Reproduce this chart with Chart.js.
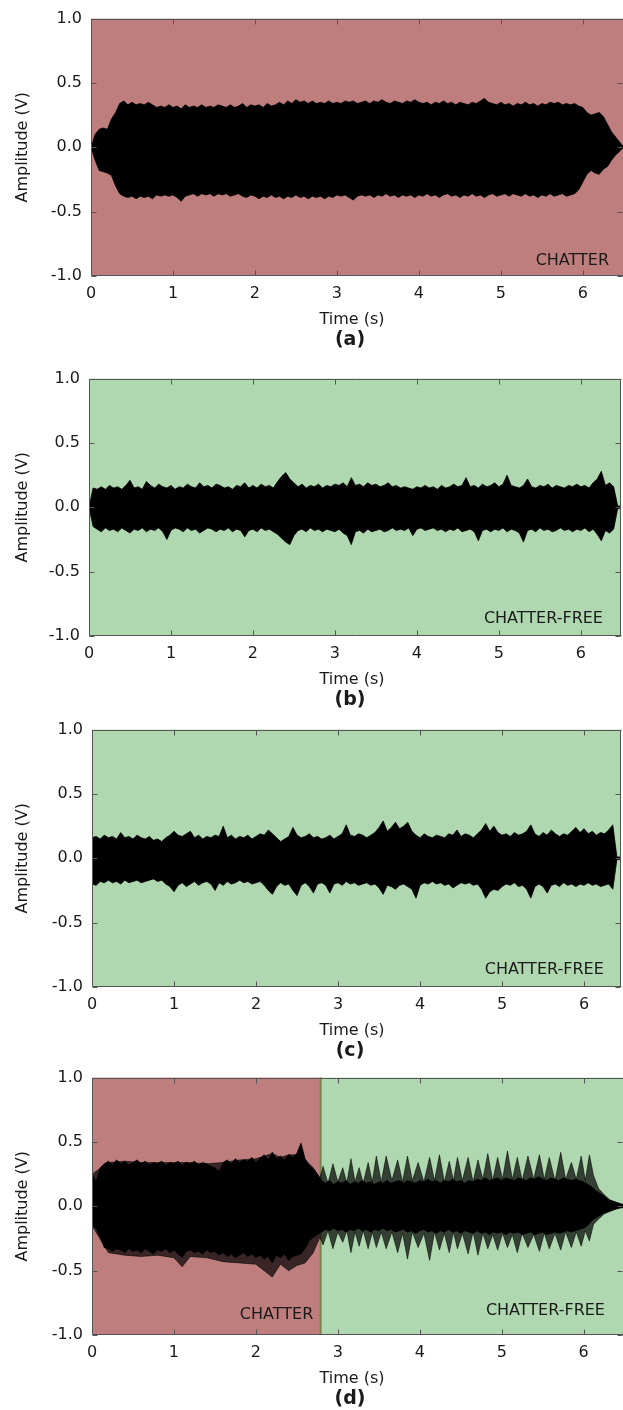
<!DOCTYPE html>
<html>
<head>
<meta charset="utf-8">
<script src="https://cdn.jsdelivr.net/npm/chart.js@4.4.1/dist/chart.umd.min.js"></script>
<style>
  body { margin: 0; background: #fff; overflow: hidden; }
  .panel { position: absolute; left: 0; width: 623px; height: 350px; }
</style>
</head>
<body>
<div class="panel" style="top:0px"><canvas id="chartA" width="623" height="350"></canvas></div>
<div class="panel" style="top:360px"><canvas id="chartB" width="623" height="350"></canvas></div>
<div class="panel" style="top:711px"><canvas id="chartC" width="623" height="350"></canvas></div>
<div class="panel" style="top:1059px"><canvas id="chartD" width="623" height="350"></canvas></div>
<script>
// Global Options
Chart.defaults.font.family = "'DejaVu Sans'";
Chart.defaults.font.size = 16;
Chart.defaults.color = '#1a1a1a';

const xTicks = [0, 1, 2, 3, 4, 5, 6];
const yTicks = [-1.0, -0.5, 0.0, 0.5, 1.0];

// sample times of the envelopes (s)
const time = [
  0.00, 0.05, 0.10, 0.15, 0.20, 0.25, 0.30, 0.35, 0.40, 0.45,
  0.50, 0.55, 0.60, 0.65, 0.70, 0.75, 0.80, 0.85, 0.90, 0.95,
  1.00, 1.05, 1.10, 1.15, 1.20, 1.25, 1.30, 1.35, 1.40, 1.45,
  1.50, 1.55, 1.60, 1.65, 1.70, 1.75, 1.80, 1.85, 1.90, 1.95,
  2.00, 2.05, 2.10, 2.15, 2.20, 2.25, 2.30, 2.35, 2.40, 2.45,
  2.50, 2.55, 2.60, 2.65, 2.70, 2.75, 2.80, 2.85, 2.90, 2.95,
  3.00, 3.05, 3.10, 3.15, 3.20, 3.25, 3.30, 3.35, 3.40, 3.45,
  3.50, 3.55, 3.60, 3.65, 3.70, 3.75, 3.80, 3.85, 3.90, 3.95,
  4.00, 4.05, 4.10, 4.15, 4.20, 4.25, 4.30, 4.35, 4.40, 4.45,
  4.50, 4.55, 4.60, 4.65, 4.70, 4.75, 4.80, 4.85, 4.90, 4.95,
  5.00, 5.05, 5.10, 5.15, 5.20, 5.25, 5.30, 5.35, 5.40, 5.45,
  5.50, 5.55, 5.60, 5.65, 5.70, 5.75, 5.80, 5.85, 5.90, 5.95,
  6.00, 6.05, 6.10, 6.15, 6.20, 6.25, 6.30, 6.35, 6.40, 6.45,
  6.50
];

// (a) chatter
const upperA = [
  0.00, 0.10, 0.14, 0.15, 0.14, 0.22, 0.27, 0.34, 0.36, 0.33,
  0.35, 0.33, 0.34, 0.33, 0.35, 0.33, 0.31, 0.32, 0.31, 0.33,
  0.31, 0.32, 0.30, 0.33, 0.31, 0.32, 0.31, 0.33, 0.31, 0.32,
  0.31, 0.33, 0.32, 0.31, 0.33, 0.31, 0.32, 0.34, 0.31, 0.33,
  0.32, 0.33, 0.31, 0.34, 0.32, 0.33, 0.35, 0.33, 0.36, 0.34,
  0.37, 0.35, 0.36, 0.34, 0.36, 0.34, 0.35, 0.34, 0.36, 0.34,
  0.35, 0.34, 0.36, 0.35, 0.36, 0.34, 0.35, 0.36, 0.34, 0.36,
  0.35, 0.37, 0.35, 0.34, 0.36, 0.35, 0.34, 0.36, 0.35, 0.37,
  0.35, 0.34, 0.35, 0.33, 0.35, 0.34, 0.36, 0.34, 0.35, 0.33,
  0.35, 0.34, 0.33, 0.35, 0.34, 0.36, 0.38, 0.35, 0.34, 0.33,
  0.35, 0.33, 0.34, 0.32, 0.34, 0.33, 0.35, 0.33, 0.34, 0.32,
  0.34, 0.33, 0.35, 0.34, 0.35, 0.33, 0.34, 0.33, 0.34, 0.32,
  0.31, 0.27, 0.25, 0.26, 0.27, 0.24, 0.18, 0.12, 0.08, 0.04,
  0.00
];
const lowerA = [
  0.00, -0.10, -0.18, -0.19, -0.20, -0.22, -0.30, -0.36, -0.38, -0.39,
  -0.38, -0.40, -0.38, -0.39, -0.38, -0.40, -0.37, -0.38, -0.37, -0.38,
  -0.37, -0.39, -0.42, -0.38, -0.37, -0.36, -0.38, -0.36, -0.37, -0.36,
  -0.38, -0.36, -0.37, -0.36, -0.38, -0.37, -0.36, -0.38, -0.39, -0.37,
  -0.38, -0.40, -0.38, -0.39, -0.37, -0.39, -0.38, -0.40, -0.38, -0.39,
  -0.37, -0.39, -0.38, -0.40, -0.38, -0.39, -0.38, -0.40, -0.38, -0.39,
  -0.37, -0.38, -0.37, -0.39, -0.41, -0.38, -0.37, -0.38, -0.37, -0.39,
  -0.37, -0.38, -0.36, -0.38, -0.37, -0.39, -0.37, -0.38, -0.37, -0.39,
  -0.37, -0.38, -0.36, -0.38, -0.37, -0.39, -0.37, -0.36, -0.38, -0.37,
  -0.39, -0.37, -0.38, -0.36, -0.38, -0.37, -0.39, -0.37, -0.36, -0.38,
  -0.37, -0.36, -0.38, -0.36, -0.37, -0.38, -0.36, -0.38, -0.37, -0.39,
  -0.37, -0.38, -0.36, -0.38, -0.37, -0.36, -0.38, -0.37, -0.36, -0.33,
  -0.27, -0.21, -0.18, -0.20, -0.21, -0.17, -0.15, -0.10, -0.06, -0.03,
  0.00
];

// (b) chatter-free
const upperB = [
  0.00, 0.15, 0.14, 0.16, 0.14, 0.17, 0.15, 0.16, 0.14, 0.17,
  0.21, 0.15, 0.16, 0.14, 0.20, 0.17, 0.15, 0.18, 0.16, 0.15,
  0.17, 0.14, 0.16, 0.15, 0.18, 0.16, 0.15, 0.19, 0.16, 0.17,
  0.15, 0.18, 0.17, 0.15, 0.16, 0.14, 0.17, 0.16, 0.19, 0.15,
  0.17, 0.15, 0.18, 0.16, 0.17, 0.15, 0.20, 0.24, 0.27, 0.22,
  0.19, 0.16, 0.18, 0.15, 0.17, 0.16, 0.18, 0.15, 0.17, 0.16,
  0.18, 0.17, 0.19, 0.16, 0.23, 0.17, 0.18, 0.16, 0.19, 0.17,
  0.18, 0.16, 0.17, 0.19, 0.16, 0.17, 0.15, 0.16, 0.15, 0.14,
  0.16, 0.15, 0.17, 0.15, 0.16, 0.14, 0.17, 0.15, 0.16, 0.18,
  0.16, 0.17, 0.23, 0.16, 0.17, 0.15, 0.18, 0.16, 0.17, 0.19,
  0.16, 0.18, 0.25, 0.17, 0.16, 0.15, 0.17, 0.22, 0.16, 0.15,
  0.17, 0.16, 0.18, 0.15, 0.17, 0.16, 0.15, 0.17, 0.16, 0.18,
  0.16, 0.17, 0.15, 0.19, 0.22, 0.28, 0.17, 0.19, 0.16, 0.01,
  0.01
];
const lowerB = [
  0.00, -0.15, -0.17, -0.19, -0.16, -0.18, -0.17, -0.19, -0.16, -0.18,
  -0.20, -0.17, -0.18, -0.16, -0.19, -0.17, -0.18, -0.16, -0.19, -0.25,
  -0.18, -0.16, -0.17, -0.19, -0.16, -0.18, -0.17, -0.20, -0.18, -0.16,
  -0.17, -0.19, -0.17, -0.18, -0.16, -0.19, -0.17, -0.18, -0.23, -0.18,
  -0.17, -0.19, -0.16, -0.18, -0.17, -0.19, -0.21, -0.24, -0.27, -0.29,
  -0.22, -0.18, -0.17, -0.19, -0.16, -0.18, -0.17, -0.19, -0.17, -0.18,
  -0.19, -0.17, -0.20, -0.22, -0.29, -0.19, -0.18, -0.20, -0.17, -0.19,
  -0.18, -0.17, -0.19, -0.18, -0.16, -0.18, -0.17, -0.18, -0.16, -0.22,
  -0.17, -0.16, -0.18, -0.17, -0.16, -0.18, -0.17, -0.19, -0.17, -0.18,
  -0.16, -0.19, -0.18, -0.17, -0.19, -0.26, -0.18, -0.17, -0.19, -0.17,
  -0.18, -0.16, -0.19, -0.17, -0.18, -0.20, -0.27, -0.18, -0.17, -0.19,
  -0.16, -0.18, -0.17, -0.19, -0.18, -0.16, -0.18, -0.17, -0.19, -0.17,
  -0.18, -0.16, -0.19, -0.17, -0.21, -0.26, -0.18, -0.20, -0.17, -0.01,
  -0.01
];

// (c) chatter-free
const upperC = [
  0.16, 0.17, 0.15, 0.18, 0.16, 0.17, 0.15, 0.20, 0.16, 0.17,
  0.15, 0.18, 0.16, 0.15, 0.17, 0.14, 0.15, 0.13, 0.16, 0.18,
  0.21, 0.18, 0.17, 0.19, 0.21, 0.16, 0.18, 0.15, 0.17, 0.16,
  0.18, 0.17, 0.25, 0.16, 0.18, 0.15, 0.17, 0.16, 0.18, 0.15,
  0.17, 0.19, 0.18, 0.22, 0.19, 0.16, 0.13, 0.15, 0.17, 0.24,
  0.18, 0.16, 0.17, 0.19, 0.16, 0.17, 0.15, 0.16, 0.18, 0.15,
  0.17, 0.19, 0.26, 0.18, 0.17, 0.19, 0.18, 0.16, 0.18, 0.20,
  0.24, 0.29, 0.21, 0.24, 0.28, 0.23, 0.25, 0.28, 0.21, 0.18,
  0.16, 0.19, 0.17, 0.16, 0.18, 0.17, 0.16, 0.19, 0.18, 0.22,
  0.17, 0.19, 0.18, 0.16, 0.19, 0.22, 0.27, 0.21, 0.25, 0.20,
  0.18, 0.19, 0.17, 0.20, 0.18, 0.19, 0.21, 0.26, 0.19, 0.17,
  0.20, 0.18, 0.22, 0.19, 0.17, 0.19, 0.18, 0.21, 0.24, 0.20,
  0.23, 0.19, 0.21, 0.18, 0.20, 0.19, 0.22, 0.26, 0.01, 0.01,
  0.01
];
const lowerC = [
  -0.20, -0.21, -0.18, -0.19, -0.17, -0.19, -0.18, -0.20, -0.17, -0.19,
  -0.18, -0.17, -0.19, -0.18, -0.17, -0.16, -0.18, -0.17, -0.20, -0.22,
  -0.26, -0.21, -0.19, -0.22, -0.20, -0.18, -0.21, -0.19, -0.18, -0.20,
  -0.25, -0.19, -0.21, -0.18, -0.20, -0.19, -0.17, -0.19, -0.18, -0.20,
  -0.19, -0.18, -0.21, -0.25, -0.28, -0.22, -0.19, -0.21, -0.20, -0.25,
  -0.29, -0.21, -0.19, -0.22, -0.27, -0.20, -0.19, -0.21, -0.27, -0.20,
  -0.19, -0.21, -0.18, -0.20, -0.19, -0.21, -0.20, -0.19, -0.21, -0.20,
  -0.23, -0.28, -0.21, -0.22, -0.24, -0.21, -0.20, -0.22, -0.24, -0.31,
  -0.21, -0.19, -0.20, -0.18, -0.20, -0.19, -0.21, -0.20, -0.23, -0.21,
  -0.19, -0.20, -0.19, -0.21, -0.20, -0.24, -0.31, -0.26, -0.24, -0.25,
  -0.22, -0.20, -0.21, -0.19, -0.22, -0.21, -0.24, -0.31, -0.22, -0.20,
  -0.22, -0.27, -0.21, -0.20, -0.22, -0.19, -0.21, -0.20, -0.22, -0.20,
  -0.21, -0.19, -0.21, -0.20, -0.22, -0.21, -0.20, -0.24, -0.01, -0.01,
  -0.01
];

// (d) chatter then chatter-free: dense core
const upperD = [
  0.25, 0.19, 0.30, 0.33, 0.35, 0.32, 0.36, 0.33, 0.35, 0.32,
  0.34, 0.36, 0.33, 0.35, 0.32, 0.34, 0.33, 0.35, 0.32, 0.34,
  0.33, 0.35, 0.32, 0.34, 0.33, 0.35, 0.32, 0.34, 0.33, 0.31,
  0.30, 0.27, 0.34, 0.36, 0.33, 0.37, 0.34, 0.36, 0.35, 0.38,
  0.34, 0.37, 0.40, 0.36, 0.42, 0.37, 0.39, 0.36, 0.40, 0.38,
  0.41, 0.49, 0.37, 0.32, 0.29, 0.25, 0.20, 0.18, 0.20, 0.17,
  0.19, 0.18, 0.20, 0.17, 0.19, 0.18, 0.20, 0.18, 0.19, 0.17,
  0.19, 0.18, 0.20, 0.18, 0.19, 0.20, 0.18, 0.20, 0.19, 0.18,
  0.20, 0.19, 0.21, 0.19, 0.20, 0.18, 0.20, 0.19, 0.21, 0.19,
  0.20, 0.18, 0.20, 0.19, 0.21, 0.20, 0.22, 0.20, 0.21, 0.22,
  0.20, 0.22, 0.21, 0.20, 0.22, 0.21, 0.20, 0.22, 0.21, 0.23,
  0.21, 0.20, 0.22, 0.21, 0.20, 0.22, 0.21, 0.20, 0.21, 0.20,
  0.19, 0.17, 0.15, 0.12, 0.10, 0.08, 0.05, 0.04, 0.03, 0.02,
  0.01
];
const lowerD = [
  -0.15, -0.17, -0.24, -0.32, -0.33, -0.35, -0.33, -0.34, -0.36, -0.33,
  -0.35, -0.34, -0.36, -0.33, -0.35, -0.37, -0.34, -0.35, -0.33, -0.36,
  -0.34, -0.37, -0.40, -0.35, -0.34, -0.36, -0.35, -0.37, -0.34, -0.36,
  -0.35, -0.38, -0.36, -0.39, -0.37, -0.40, -0.38, -0.36, -0.39, -0.37,
  -0.40, -0.38, -0.41, -0.39, -0.44, -0.38, -0.40, -0.37, -0.42, -0.39,
  -0.38, -0.37, -0.33, -0.27, -0.24, -0.22, -0.20, -0.18, -0.19, -0.17,
  -0.19, -0.18, -0.20, -0.18, -0.19, -0.17, -0.19, -0.18, -0.20, -0.18,
  -0.19, -0.17, -0.19, -0.18, -0.20, -0.19, -0.18, -0.20, -0.19, -0.21,
  -0.19, -0.18, -0.20, -0.19, -0.21, -0.19, -0.20, -0.18, -0.20, -0.19,
  -0.21, -0.19, -0.20, -0.21, -0.19, -0.21, -0.20, -0.22, -0.20, -0.21,
  -0.20, -0.22, -0.20, -0.21, -0.20, -0.22, -0.21, -0.20, -0.22, -0.21,
  -0.20, -0.22, -0.21, -0.20, -0.21, -0.20, -0.19, -0.20, -0.19, -0.18,
  -0.17, -0.15, -0.11, -0.09, -0.07, -0.05, -0.04, -0.03, -0.02, -0.01,
  -0.01
];

// (d) grey fringe of peaks and troughs
const fringeTimeD = [
  0.00, 0.20, 0.40, 0.60, 0.80, 1.00, 1.10, 1.20, 1.40, 1.60,
  1.80, 2.00, 2.20, 2.30, 2.40, 2.50, 2.60, 2.70, 2.78, 2.82,
  2.88, 2.94, 3.00, 3.06, 3.11, 3.16, 3.21, 3.26, 3.31, 3.37,
  3.42, 3.47, 3.53, 3.59, 3.66, 3.73, 3.79, 3.85, 3.91, 3.98,
  4.05, 4.12, 4.18, 4.24, 4.30, 4.36, 4.41, 4.46, 4.52, 4.59,
  4.65, 4.71, 4.77, 4.83, 4.89, 4.95, 5.01, 5.07, 5.13, 5.19,
  5.25, 5.32, 5.39, 5.46, 5.52, 5.58, 5.65, 5.72, 5.78, 5.85,
  5.91, 5.97, 6.02, 6.07, 6.12, 6.18, 6.25, 6.32, 6.40, 6.48
];
const fringeUpperD = [
  0.25, 0.34, 0.35, 0.34, 0.34, 0.34, 0.34, 0.34, 0.33, 0.34,
  0.36, 0.37, 0.41, 0.38, 0.40, 0.40, 0.36, 0.30, 0.22, 0.31,
  0.18, 0.33, 0.19, 0.30, 0.18, 0.37, 0.19, 0.30, 0.18, 0.34,
  0.19, 0.39, 0.19, 0.39, 0.20, 0.36, 0.19, 0.39, 0.20, 0.34,
  0.19, 0.38, 0.20, 0.40, 0.19, 0.35, 0.20, 0.38, 0.20, 0.38,
  0.19, 0.36, 0.21, 0.41, 0.20, 0.38, 0.21, 0.43, 0.21, 0.38,
  0.20, 0.39, 0.21, 0.40, 0.21, 0.38, 0.20, 0.42, 0.21, 0.34,
  0.21, 0.39, 0.20, 0.40, 0.24, 0.14, 0.09, 0.05, 0.03, 0.01
];
const fringeLowerD = [
  -0.15, -0.36, -0.38, -0.39, -0.38, -0.40, -0.47, -0.39, -0.40, -0.43,
  -0.44, -0.45, -0.55, -0.45, -0.50, -0.46, -0.44, -0.36, -0.24, -0.30,
  -0.19, -0.33, -0.20, -0.28, -0.19, -0.36, -0.20, -0.31, -0.19, -0.33,
  -0.20, -0.32, -0.20, -0.33, -0.20, -0.36, -0.21, -0.41, -0.20, -0.32,
  -0.21, -0.42, -0.20, -0.34, -0.21, -0.36, -0.20, -0.33, -0.21, -0.37,
  -0.20, -0.38, -0.21, -0.33, -0.22, -0.34, -0.21, -0.32, -0.22, -0.36,
  -0.21, -0.32, -0.22, -0.35, -0.21, -0.33, -0.21, -0.34, -0.20, -0.32,
  -0.20, -0.31, -0.19, -0.27, -0.14, -0.10, -0.06, -0.04, -0.02, -0.01
];

const CHATTER_BG = '#bf7e7e';
const FREE_BG = '#b0d8b0';
const FRAME = '#555555';

const panels = [
  { id: 'chartA', tag: '(a)', left: 91, padRight: 0, xMax: 6.49, frameRight: false,
    spans: [[0, 6.49, CHATTER_BG]], divider: null,
    notes: [{ text: 'CHATTER', x: 6.32, dy: 11 }],
    bands: [[time, upperA, lowerA, '#000000', 0]] },
  { id: 'chartB', tag: '(b)', left: 89, padRight: 2, xMax: 6.49, frameRight: true,
    spans: [[0, 6.49, FREE_BG]], divider: null,
    notes: [{ text: 'CHATTER-FREE', x: 6.27, dy: 13 }],
    bands: [[time, upperB, lowerB, '#000000', 0]] },
  { id: 'chartC', tag: '(c)', left: 92, padRight: 2, xMax: 6.45, frameRight: true,
    spans: [[0, 6.45, FREE_BG]], divider: null,
    notes: [{ text: 'CHATTER-FREE', x: 6.24, dy: 13 }],
    bands: [[time, upperC, lowerC, '#000000', 0]] },
  { id: 'chartD', tag: '(d)', left: 92, padRight: 0, xMax: 6.48, frameRight: false,
    spans: [[0, 2.79, CHATTER_BG], [2.79, 6.48, FREE_BG]], divider: 2.79,
    notes: [{ text: 'CHATTER', x: 2.70, dy: 16 }, { text: 'CHATTER-FREE', x: 6.26, dy: 20 }],
    bands: [[time, upperD, lowerD, '#000000', 0], [fringeTimeD, fringeUpperD, fringeLowerD, 'rgba(0,0,0,0.7)', 1]] },
];

const toPoints = (t, v) => t.map((x, i) => ({ x: x, y: v[i] }));

// upper edge filled down to the lower edge that follows it
const bandSets = (t, up, lo, color, order) => [
  { data: toPoints(t, up), fill: '+1' },
  { data: toPoints(t, lo), fill: false },
].map((d) => Object.assign(d, {
  borderColor: color,
  backgroundColor: color,
  borderWidth: 0.8,
  pointRadius: 0,
  order: order,
}));

// background spans, frame with inward ticks, labels
const decor = (p) => ({
  id: 'decor',
  beforeDatasetsDraw(chart) {
    const { ctx, chartArea: a, scales: { x } } = chart;
    ctx.save();
    p.spans.forEach(([from, to, color]) => {
      const x0 = Math.max(a.left, x.getPixelForValue(from));
      const x1 = Math.min(a.right, x.getPixelForValue(to));
      ctx.fillStyle = color;
      ctx.fillRect(x0, a.top, x1 - x0, a.bottom - a.top);
    });
    if (p.divider !== null) {
      const xd = x.getPixelForValue(p.divider);
      ctx.strokeStyle = '#7f7f4c';
      ctx.lineWidth = 2;
      ctx.beginPath();
      ctx.moveTo(xd, a.top);
      ctx.lineTo(xd, a.bottom);
      ctx.stroke();
    }
    ctx.restore();
  },
  afterDatasetsDraw(chart) {
    const { ctx, chartArea: a, scales: { x, y } } = chart;
    const L = Math.round(a.left) + 0.5, R = Math.round(a.right) - 0.5;
    const T = Math.round(a.top) + 0.5, B = Math.round(a.bottom) - 0.5;
    ctx.save();
    ctx.strokeStyle = FRAME;
    ctx.lineWidth = 1;
    ctx.beginPath();
    ctx.moveTo(R + 1, T); ctx.lineTo(L, T); ctx.lineTo(L, B); ctx.lineTo(R + 1, B);
    if (p.frameRight) { ctx.moveTo(R, T); ctx.lineTo(R, B); }
    xTicks.forEach((v) => {
      const px = Math.round(x.getPixelForValue(v)) + 0.5;
      ctx.moveTo(px, B); ctx.lineTo(px, B - 5);
      ctx.moveTo(px, T); ctx.lineTo(px, T + 5);
    });
    yTicks.forEach((v) => {
      const py = Math.round(y.getPixelForValue(v)) + 0.5;
      ctx.moveTo(L, py); ctx.lineTo(L + 5, py);
      ctx.moveTo(R, py); ctx.lineTo(R - 5, py);
    });
    ctx.stroke();

    ctx.fillStyle = '#1a1a1a';
    ctx.font = "16px 'DejaVu Sans'";
    ctx.textAlign = 'right';
    ctx.textBaseline = 'alphabetic';
    p.notes.forEach((n) => {
      ctx.fillText(n.text, x.getPixelForValue(n.x), a.bottom - n.dy);
    });
    ctx.restore();
  },
  afterDraw(chart) {
    const { ctx, chartArea: a } = chart;
    ctx.save();
    ctx.fillStyle = '#1a1a1a';
    ctx.textAlign = 'center';
    ctx.textBaseline = 'alphabetic';
    ctx.font = "16px 'DejaVu Sans'";
    ctx.fillText('Time (s)', 352, a.bottom + 48);
    ctx.font = "bold 19px 'DejaVu Sans'";
    ctx.fillText(p.tag, 350, a.bottom + 69);
    ctx.translate(23, (a.top + a.bottom) / 2);
    ctx.rotate(-Math.PI / 2);
    ctx.font = "16px 'DejaVu Sans'";
    ctx.textBaseline = 'middle';
    ctx.fillText('Amplitude (V)', 0, 0);
    ctx.restore();
  },
});

getCharts = () => {
  panels.forEach((p) => {
    const datasets = [];
    p.bands.forEach((b) => datasets.push(...bandSets(...b)));
    new Chart(document.getElementById(p.id).getContext('2d'), {
      type: 'line',
      data: { datasets: datasets },
      options: {
        responsive: false,
        animation: false,
        layout: { padding: { top: 12, right: p.padRight, left: 0, bottom: 0 } },
        elements: { line: { tension: 0 } },
        plugins: {
          legend: { display: false },
          tooltip: { enabled: false },
        },
        scales: {
          x: {
            type: 'linear',
            min: 0,
            max: p.xMax,
            grid: { display: false, drawTicks: false },
            border: { display: false },
            afterBuildTicks: (s) => { s.ticks = xTicks.map((v) => ({ value: v })); },
            afterFit: (s) => { s.height = 74; },
            ticks: { padding: 8, maxRotation: 0, autoSkip: false, callback: (v) => String(v) },
          },
          y: {
            type: 'linear',
            min: -1,
            max: 1,
            grid: { display: false, drawTicks: false },
            border: { display: false },
            afterBuildTicks: (s) => { s.ticks = yTicks.map((v) => ({ value: v })); },
            afterFit: (s) => { s.width = p.left; },
            ticks: { padding: 9, callback: (v) => v.toFixed(1) },
          },
        },
      },
      plugins: [decor(p)],
    });
  });
};

document.addEventListener('DOMContentLoaded', getCharts);
</script>
</body>
</html>
